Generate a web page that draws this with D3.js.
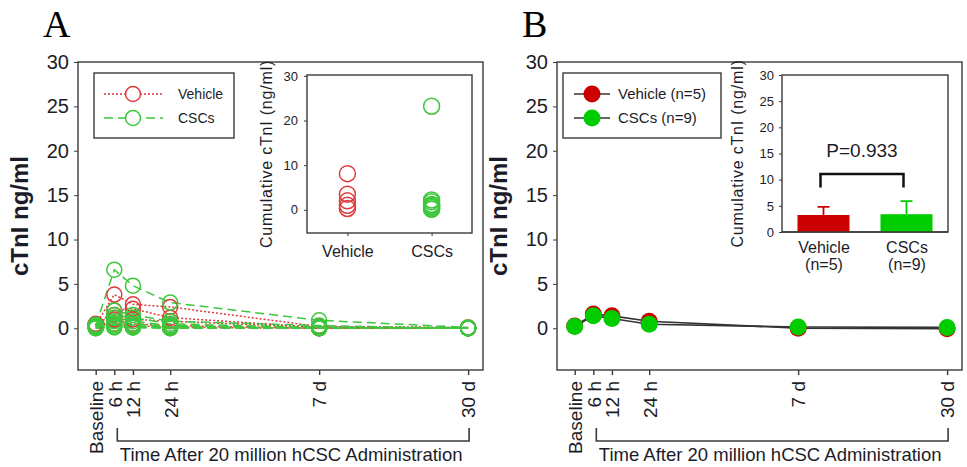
<!DOCTYPE html>
<html>
<head>
<meta charset="utf-8">
<script src="https://cdn.jsdelivr.net/npm/d3@7"></script>
<style>
  body { margin: 0; background: #fff; }
  text { font-family: Arial, "Liberation Sans", sans-serif; fill: #1c1c28; }
</style>
</head>
<body>
<div id="chart"></div>
<script>
// time points; slot = where the point sits on the (non-linear) time axis
const timeLabels = ["Baseline", "6 h", "12 h", "24 h", "7 d", "30 d"];
const timeSlots = [0, 1, 2, 4, 12, 20];

// panel A, one row per animal: Baseline, 6h, 12h, 24h, 7d, 30d
const vehicleSeries = [
  [0.4, 3.8, 2.7, 2.4, 0.2, 0.1],
  [0.3, 2.0, 2.2, 1.2, 0.1, 0.0],
  [0.5, 1.5, 1.0, 0.8, 0.1, 0.0],
  [0.2, 1.0, 0.5, 0.3, 0.0, 0.0],
  [0.3, 0.5, 0.3, 0.1, 0.0, 0.0]
];
const cscSeries = [
  [0.3, 6.6, 4.8, 2.9, 0.9, 0.1],
  [0.2, 2.0, 1.5, 0.8, 0.3, 0.0],
  [0.4, 1.5, 1.2, 0.5, 0.1, 0.0],
  [0.3, 1.2, 0.8, 0.3, 0.1, 0.0],
  [0.2, 0.8, 0.5, 0.2, 0.0, 0.0],
  [0.1, 0.5, 0.3, 0.1, 0.0, 0.0],
  [0.1, 0.3, 0.2, 0.1, 0.0, 0.0],
  [0.0, 0.2, 0.1, 0.0, 0.0, 0.0],
  [0.0, 0.1, 0.1, 0.0, 0.0, 0.0]
];

// inset A: cumulative cTnI per animal
const cumVehicle = [8.1, 3.5, 2.0, 1.0, 0.3];
const cumCSC = [23.2, 2.2, 1.8, 1.2, 1.0, 0.8, 0.5, 0.2, 0.1];

// panel B: group means
const meanVehicle = [0.25, 1.6, 1.4, 0.8, 0.0, -0.05];
const meanCSC = [0.2, 1.4, 1.1, 0.45, 0.15, 0.1];

// inset B
const groupLabels = ["Vehicle", "CSCs"];
const groupN = ["(n=5)", "(n=9)"];
const cumMean = [3.25, 3.4];
const cumErr = [1.55, 2.5];
const pText = "P=0.933";

const yTicksMain = [0, 5, 10, 15, 20, 25, 30];
const yTicksInsetA = [0, 10, 20, 30];
const yTicksInsetB = [0, 5, 10, 15, 20, 25, 30];

const red = "#dd3b3b", green = "#3cc83c";
const redFill = "#cc0000", greenFill = "#00cc00";
const frame = "#3a3a3a";

const svg = d3.select("#chart").append("svg")
  .attr("width", 967)
  .attr("height", 467);

const plotTop = 62, plotBottom = 370, plotW = 405;
const yMain = d3.scaleLinear().domain([-4.7, 30]).range([plotBottom, plotTop]);

function mainPanel(left, letter) {
  const g = svg.append("g");
  const x = d3.scaleLinear().domain([-0.95, 20.8]).range([left, left + plotW]);

  g.append("text")
    .attr("x", left - 35).attr("y", 37)
    .style("font-family", "'Liberation Serif','Times New Roman',serif")
    .attr("font-size", "38px")
    .style("fill", "#000")
    .text(letter);

  g.append("rect")
    .attr("x", left).attr("y", plotTop)
    .attr("width", plotW).attr("height", plotBottom - plotTop)
    .attr("fill", "none").attr("stroke", frame).attr("stroke-width", 1.4);

  const yAx = g.append("g").attr("transform", `translate(${left},0)`)
    .call(d3.axisLeft(yMain).tickValues(yTicksMain).tickSize(4).tickPadding(5));
  yAx.select(".domain").remove();
  yAx.selectAll("line").attr("stroke", frame);
  yAx.selectAll("text").attr("font-size", "20px").style("font-family", "Arial, 'Liberation Sans', sans-serif");

  const xAx = g.append("g").attr("transform", `translate(0,${plotBottom})`)
    .call(d3.axisBottom(x).tickValues(timeSlots).tickFormat((d, i) => timeLabels[i]).tickSize(5));
  xAx.select(".domain").remove();
  xAx.selectAll("line").attr("stroke", frame).attr("stroke-width", 1.4);
  xAx.selectAll("text")
    .attr("font-size", "19px")
    .style("font-family", "Arial, 'Liberation Sans', sans-serif")
    .attr("text-anchor", "end")
    .attr("transform", "rotate(-90)")
    .attr("x", -11).attr("y", 0).attr("dy", "0.36em");

  // bracket under 6 h .. 30 d
  const bx0 = x(timeSlots[1]) + 3, bx1 = x(timeSlots[5]) + 1;
  g.append("path")
    .attr("d", `M${bx0},428V441H${bx1}V428`)
    .attr("fill", "none").attr("stroke", frame).attr("stroke-width", 1.6);
  g.append("text")
    .attr("x", (bx0 + bx1) / 2 - 2).attr("y", 461)
    .attr("text-anchor", "middle")
    .attr("font-size", "18.5px")
    .text("Time After 20 million hCSC Administration");

  g.append("text")
    .attr("transform", `translate(${left - 50},${(plotTop + plotBottom) / 2}) rotate(-90)`)
    .attr("text-anchor", "middle")
    .attr("font-size", "24px").attr("font-weight", "bold")
    .text("cTnI ng/ml");

  return { g, x };
}

const line = (x) => d3.line().x((d, i) => x(timeSlots[i])).y(d => yMain(d));

// ---------- panel A ----------
const A = mainPanel(78, "A");
A.g.selectAll(".vline").data(vehicleSeries).enter().append("path")
  .attr("d", line(A.x)).attr("fill", "none")
  .attr("stroke", red).attr("stroke-width", 1.5).attr("stroke-dasharray", "2,2");
A.g.selectAll(".cline").data(cscSeries).enter().append("path")
  .attr("d", line(A.x)).attr("fill", "none")
  .attr("stroke", green).attr("stroke-width", 1.5).attr("stroke-dasharray", "9,5");
vehicleSeries.forEach(s => {
  A.g.selectAll(null).data(s).enter().append("circle")
    .attr("cx", (d, i) => A.x(timeSlots[i])).attr("cy", d => yMain(d)).attr("r", 7.5)
    .attr("fill", "none").attr("stroke", red).attr("stroke-width", 1.5);
});
cscSeries.forEach(s => {
  A.g.selectAll(null).data(s).enter().append("circle")
    .attr("cx", (d, i) => A.x(timeSlots[i])).attr("cy", d => yMain(d)).attr("r", 7.5)
    .attr("fill", "none").attr("stroke", green).attr("stroke-width", 1.5);
});

// legend A
const legA = A.g.append("g");
legA.append("rect").attr("x", 94).attr("y", 73).attr("width", 140).attr("height", 65)
  .attr("fill", "#fff").attr("stroke", frame).attr("stroke-width", 1.4);
[["Vehicle", red, "2,2", 94], ["CSCs", green, "9,5", 118]].forEach(([t, c, dash, ly]) => {
  legA.append("line").attr("x1", 104).attr("x2", 163).attr("y1", ly).attr("y2", ly)
    .attr("stroke", c).attr("stroke-width", 1.5).attr("stroke-dasharray", dash);
  legA.append("circle").attr("cx", 133).attr("cy", ly).attr("r", 7.5)
    .attr("fill", "#fff").attr("stroke", c).attr("stroke-width", 1.5);
  legA.append("text").attr("x", 178).attr("y", ly).attr("dy", "0.35em")
    .attr("font-size", "14px").text(t);
});

// inset A
const iA = { x0: 307, x1: 472, y0: 75, y1: 233 };
const yIA = d3.scaleLinear().domain([-5.2, 30.2]).range([iA.y1, iA.y0]);
const xIA = d3.scalePoint().domain(groupLabels).range([iA.x0, iA.x1]).padding(0.48);
const gIA = A.g.append("g");
gIA.append("rect").attr("x", iA.x0).attr("y", iA.y0)
  .attr("width", iA.x1 - iA.x0).attr("height", iA.y1 - iA.y0)
  .attr("fill", "#fff").attr("stroke", frame).attr("stroke-width", 1.4);
const yaIA = gIA.append("g").attr("transform", `translate(${iA.x0},0)`)
  .call(d3.axisLeft(yIA).tickValues(yTicksInsetA).tickSize(3).tickPadding(6));
yaIA.select(".domain").remove();
yaIA.selectAll("line").attr("stroke", frame);
yaIA.selectAll("text").attr("font-size", "13px").style("font-family", "Arial, 'Liberation Sans', sans-serif");
const xaIA = gIA.append("g").attr("transform", `translate(0,${iA.y1})`)
  .call(d3.axisBottom(xIA).tickSize(3).tickPadding(10));
xaIA.select(".domain").remove();
xaIA.selectAll("line").attr("stroke", frame);
xaIA.selectAll("text").attr("font-size", "16px").style("font-family", "Arial, 'Liberation Sans', sans-serif");
gIA.selectAll(".cv").data(cumVehicle).enter().append("circle")
  .attr("cx", xIA("Vehicle")).attr("cy", d => yIA(d)).attr("r", 8)
  .attr("fill", "none").attr("stroke", red).attr("stroke-width", 1.5);
gIA.selectAll(".cc").data(cumCSC).enter().append("circle")
  .attr("cx", xIA("CSCs")).attr("cy", d => yIA(d)).attr("r", 8)
  .attr("fill", "none").attr("stroke", green).attr("stroke-width", 1.5);
gIA.append("text")
  .attr("transform", `translate(272,${(iA.y0 + iA.y1) / 2}) rotate(-90)`)
  .attr("text-anchor", "middle").attr("font-size", "16px").style("letter-spacing", "0.8px")
  .text("Cumulative cTnI (ng/ml)");

// ---------- panel B ----------
const B = mainPanel(557, "B");
B.g.selectAll(".mline").data([meanVehicle, meanCSC]).enter().append("path")
  .attr("d", line(B.x)).attr("fill", "none")
  .attr("stroke", "#333").attr("stroke-width", 1.6);
[[meanVehicle, redFill], [meanCSC, greenFill]].forEach(([s, c]) => {
  B.g.selectAll(null).data(s).enter().append("circle")
    .attr("cx", (d, i) => B.x(timeSlots[i])).attr("cy", d => yMain(d)).attr("r", 8.5)
    .attr("fill", c);
});

// legend B
const legB = B.g.append("g");
legB.append("rect").attr("x", 563).attr("y", 73).attr("width", 158).attr("height", 65)
  .attr("fill", "#fff").attr("stroke", frame).attr("stroke-width", 1.4);
[["Vehicle (n=5)", redFill, 94], ["CSCs (n=9)", greenFill, 118]].forEach(([t, c, ly]) => {
  legB.append("line").attr("x1", 574).attr("x2", 610).attr("y1", ly).attr("y2", ly)
    .attr("stroke", "#333").attr("stroke-width", 1.6);
  legB.append("circle").attr("cx", 592).attr("cy", ly).attr("r", 8.5).attr("fill", c);
  legB.append("text").attr("x", 618).attr("y", ly).attr("dy", "0.35em")
    .attr("font-size", "15px").text(t);
});

// inset B
const iB = { x0: 782, x1: 948, y0: 75, y1: 232 };
const yIB = d3.scaleLinear().domain([0, 30]).range([iB.y1, iB.y0]);
const xIB = d3.scalePoint().domain(groupLabels).range([iB.x0, iB.x1]).padding(0.5);
const gIB = B.g.append("g");
gIB.append("rect").attr("x", iB.x0).attr("y", iB.y0)
  .attr("width", iB.x1 - iB.x0).attr("height", iB.y1 - iB.y0)
  .attr("fill", "#fff").attr("stroke", frame).attr("stroke-width", 1.4);
const yaIB = gIB.append("g").attr("transform", `translate(${iB.x0},0)`)
  .call(d3.axisLeft(yIB).tickValues(yTicksInsetB).tickSize(3).tickPadding(5));
yaIB.select(".domain").remove();
yaIB.selectAll("line").attr("stroke", frame);
yaIB.selectAll("text").attr("font-size", "13px").style("font-family", "Arial, 'Liberation Sans', sans-serif");
const xaIB = gIB.append("g").attr("transform", `translate(0,${iB.y1})`)
  .call(d3.axisBottom(xIB).tickSize(0).tickPadding(10));
xaIB.select(".domain").remove();
xaIB.selectAll("text").each(function (d, i) {
  const t = d3.select(this).text(null)
    .attr("font-size", "16px").style("font-family", "Arial, 'Liberation Sans', sans-serif");
  t.append("tspan").attr("x", 0).attr("dy", "0.71em").text(d);
  t.append("tspan").attr("x", 0).attr("dy", "1.05em").text(groupN[i]);
});
const barW = 52, barColors = [redFill, greenFill];
gIB.selectAll(".err").data(cumMean).enter().append("path")
  .attr("d", (d, i) => {
    const cx = xIB(groupLabels[i]), yt = yIB(d + cumErr[i]);
    return `M${cx},${yIB(d)}V${yt}M${cx - 6},${yt}H${cx + 6}`;
  })
  .attr("fill", "none").attr("stroke", (d, i) => barColors[i]).attr("stroke-width", 1.8);
gIB.selectAll(".bar").data(cumMean).enter().append("rect")
  .attr("x", (d, i) => xIB(groupLabels[i]) - barW / 2)
  .attr("y", d => yIB(d))
  .attr("width", barW)
  .attr("height", d => yIB(0) - yIB(d))
  .attr("fill", (d, i) => barColors[i]);
gIB.append("line").attr("x1", iB.x0).attr("x2", iB.x1).attr("y1", iB.y1).attr("y2", iB.y1)
  .attr("stroke", frame).attr("stroke-width", 1.4);
const bL = xIB(groupLabels[0]) - 3, bR = xIB(groupLabels[1]) - 3;
gIB.append("path")
  .attr("d", `M${bL},${yIB(8.5)}V${yIB(11.1)}H${bR}V${yIB(8.5)}`)
  .attr("fill", "none").attr("stroke", "#111").attr("stroke-width", 2.5);
gIB.append("text").attr("x", (bL + bR) / 2).attr("y", yIB(14.3))
  .attr("text-anchor", "middle").attr("font-size", "19px").text(pText);
gIB.append("text")
  .attr("transform", `translate(743,${(iB.y0 + iB.y1) / 2}) rotate(-90)`)
  .attr("text-anchor", "middle").attr("font-size", "16px").style("letter-spacing", "0.8px")
  .text("Cumulative cTnI (ng/ml)");
</script>
</body>
</html>
